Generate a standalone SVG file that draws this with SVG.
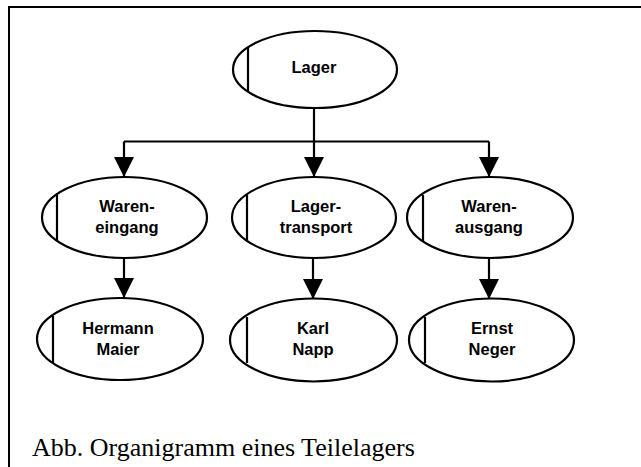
<svg xmlns="http://www.w3.org/2000/svg" width="641" height="467" viewBox="0 0 641 467">
  <defs>
    <style>
      .node ellipse { fill: #ffffff; stroke: #000000; stroke-width: 2.2; }
      .node line { stroke: #000000; stroke-width: 2.2; }
      .node text { font-family: "Liberation Sans", Arial, sans-serif; font-weight: bold; font-size: 16.5px; fill: #000000; text-anchor: middle; }
      .conn { fill: none; stroke: #000000; stroke-width: 2.2; }
      .caption { font-family: "Liberation Serif", "Times New Roman", serif; font-size: 26px; fill: #000000; }
    </style>
    <marker id="arrow" viewBox="0 0 20 20" refX="20" refY="10" markerWidth="20" markerHeight="20" markerUnits="userSpaceOnUse" orient="auto">
      <path d="M0,0 L20,10 L0,20 Z" fill="#000000"/>
    </marker>
  </defs>

  <rect width="641" height="467" fill="#ffffff"/>
  <!-- outer frame (right and bottom edges lie outside the canvas) -->
  <rect x="9" y="7" width="700" height="520" fill="none" stroke="#000000" stroke-width="2"/>

  <!-- connectors -->
  <g id="connectors">
    <path class="conn" d="M314,108 V141.5"/>
    <path class="conn" d="M124,141.5 H489"/>
    <path class="conn" d="M124,141.5 V177" marker-end="url(#arrow)"/>
    <path class="conn" d="M314,141.5 V177" marker-end="url(#arrow)"/>
    <path class="conn" d="M489,141.5 V177" marker-end="url(#arrow)"/>
    <path class="conn" d="M124,258 V298" marker-end="url(#arrow)"/>
    <path class="conn" d="M313,258 V299" marker-end="url(#arrow)"/>
    <path class="conn" d="M489,258 V299" marker-end="url(#arrow)"/>
  </g>

  <g id="lager" class="node">
    <ellipse cx="315" cy="69.5" rx="82" ry="38.5"/>
    <line x1="248" y1="47" x2="248" y2="92"/>
    <text x="314" y="73">Lager</text>
  </g>

  <g id="wareneingang" class="node">
    <ellipse cx="124.5" cy="217.5" rx="82.5" ry="40.5"/>
    <line x1="57" y1="195" x2="57" y2="241"/>
    <text x="127" y="212">Waren-</text>
    <text x="127" y="233">eingang</text>
  </g>

  <g id="lagertransport" class="node">
    <ellipse cx="314" cy="217.5" rx="82" ry="40.5"/>
    <line x1="247" y1="195" x2="247" y2="241"/>
    <text x="316" y="212">Lager-</text>
    <text x="316" y="233">transport</text>
  </g>

  <g id="warenausgang" class="node">
    <ellipse cx="490" cy="217.5" rx="83" ry="40.5"/>
    <line x1="423" y1="195" x2="423" y2="241"/>
    <text x="489" y="212">Waren-</text>
    <text x="489" y="233">ausgang</text>
  </g>

  <g id="hermann-maier" class="node">
    <ellipse cx="120" cy="339" rx="83" ry="41"/>
    <line x1="53" y1="316" x2="53" y2="363"/>
    <text x="118" y="334">Hermann</text>
    <text x="118" y="355">Maier</text>
  </g>

  <g id="karl-napp" class="node">
    <ellipse cx="313.5" cy="340" rx="83.5" ry="41.5"/>
    <line x1="247" y1="317" x2="247" y2="363"/>
    <text x="313" y="334">Karl</text>
    <text x="313" y="355">Napp</text>
  </g>

  <g id="ernst-neger" class="node">
    <ellipse cx="491.5" cy="340" rx="82.5" ry="41.5"/>
    <line x1="425" y1="317" x2="425" y2="363"/>
    <text x="492" y="334">Ernst</text>
    <text x="492" y="355">Neger</text>
  </g>

  <text class="caption" x="32" y="456">Abb. Organigramm eines Teilelagers</text>
</svg>
